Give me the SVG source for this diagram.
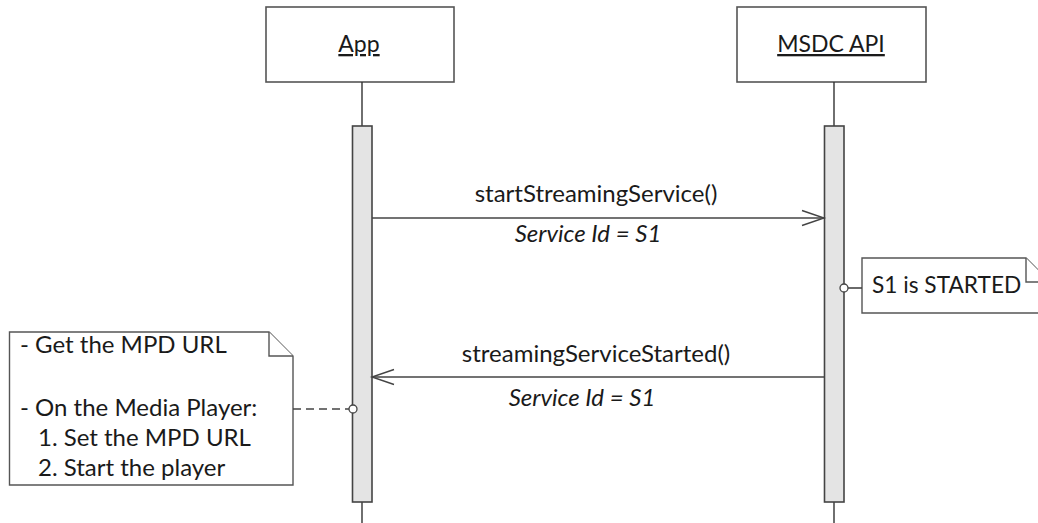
<svg xmlns="http://www.w3.org/2000/svg" width="1038" height="523" viewBox="0 0 1038 523">
  <style>
    .box { fill: #ffffff; stroke: #555555; stroke-width: 1.6; }
    .life { stroke: #333333; stroke-width: 1.4; fill: none; }
    .act { fill: #e4e4e4; stroke: #444444; stroke-width: 1.6; }
    .msg { stroke: #444444; stroke-width: 1.6; fill: none; }
    .head { stroke: #444444; stroke-width: 1.4; fill: none; }
    .dash { stroke: #444444; stroke-width: 1.4; fill: none; stroke-dasharray: 8 5; }
    .pin { fill: #ffffff; stroke: #444444; stroke-width: 1.3; }
    .note { fill: #ffffff; stroke: #555555; stroke-width: 1.4; }
    text { font-family: Lato, "Open Sans", "Liberation Sans", sans-serif; font-size: 24px; fill: #1a1a1a; }
    .title { text-anchor: middle; text-decoration: underline; font-size: 23px; }
    .lbl { text-anchor: middle; }
    .it { text-anchor: middle; font-style: italic; }
  </style>

  <!-- participant: App -->
  <g id="app">
    <rect class="box" x="266" y="7" width="188" height="75"/>
    <text class="title" x="359" y="52">App</text>
    <line class="life" x1="362" y1="82" x2="362" y2="126"/>
    <line class="life" x1="362" y1="502" x2="362" y2="523"/>
    <rect class="act" x="352.5" y="126" width="19.5" height="376"/>
  </g>

  <!-- participant: MSDC API -->
  <g id="msdc-api">
    <rect class="box" x="737" y="7" width="189" height="75"/>
    <text class="title" x="831" y="52">MSDC API</text>
    <line class="life" x1="834" y1="82" x2="834" y2="126"/>
    <line class="life" x1="834" y1="502" x2="834" y2="523"/>
    <rect class="act" x="824.5" y="126" width="19.5" height="376"/>
  </g>

  <!-- note on MSDC API -->
  <g id="note-started">
    <path class="note" d="M862 258 H1026 L1050 282 V313 H862 Z"/>
    <path class="note" d="M1026 258 V282 H1050"/>
    <text x="872" y="293" style="font-size:22.7px">S1 is STARTED</text>
  </g>

  <!-- note on App -->
  <g id="note-player">
    <path class="note" d="M9.5 332 H269 L293 356 V485 H9.5 Z"/>
    <path class="note" d="M269 332 V356 H293"/>
    <text x="20" y="353">- Get the MPD URL</text>
    <text x="20" y="416">- On the Media Player:</text>
    <text x="38" y="446">1. Set the MPD URL</text>
    <text x="38" y="476">2. Start the player</text>
  </g>

  <!-- messages and note attachments -->
  <g id="connectors">
    <line class="msg" x1="372" y1="218" x2="824" y2="218"/>
    <polyline class="head" points="802,210.5 824,218 802,225.5"/>
    <text class="lbl" x="596" y="202">startStreamingService()</text>
    <text class="it" x="588" y="242">Service Id = S1</text>

    <line class="msg" x1="824.5" y1="377" x2="372" y2="377"/>
    <polyline class="head" points="394,369.5 372,377 394,384.5"/>
    <text class="lbl" x="596" y="362">streamingServiceStarted()</text>
    <text class="it" x="582" y="406">Service Id = S1</text>

    <line class="msg" x1="848" y1="288" x2="862" y2="288"/>
    <circle class="pin" cx="844" cy="288" r="4"/>

    <line class="dash" x1="293" y1="409" x2="349" y2="409"/>
    <circle class="pin" cx="353" cy="409" r="4"/>
  </g>
</svg>
